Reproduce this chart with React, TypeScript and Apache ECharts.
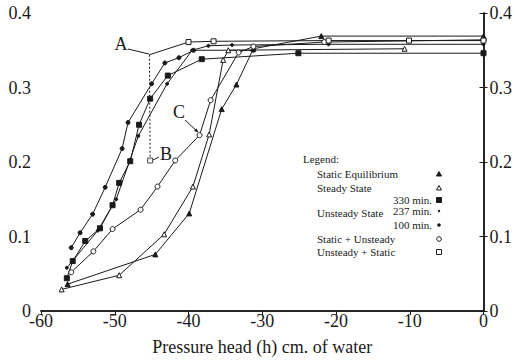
import React, { useEffect, useRef } from "react";
import * as echarts from "echarts";

// ---- data (pressure head h, water content) ----
const staticEquilibrium: number[][] = [
  [-56.4, 0.036], [-44.5, 0.076], [-39.9, 0.131], [-35.5, 0.271], [-33.5, 0.304],
  [-31.2, 0.352], [-22.0, 0.369], [0, 0.369],
];
const steadyState: number[][] = [
  [-57.2, 0.029], [-49.4, 0.048], [-43.3, 0.103], [-39.4, 0.167], [-37.2, 0.237],
  [-35.3, 0.337], [-34.6, 0.350], [-10.7, 0.352],
];
const unsteady330: number[][] = [
  [-56.5, 0.044], [-55.7, 0.067], [-54.0, 0.094], [-52.0, 0.111], [-50.3, 0.142],
  [-49.4, 0.172], [-47.9, 0.201], [-46.7, 0.250], [-45.2, 0.285], [-42.8, 0.316],
  [-38.2, 0.338], [-25.1, 0.346], [0, 0.346],
];
const unsteady237: number[][] = [
  [-56.5, 0.058], [-52.3, 0.108], [-49.8, 0.150], [-46.8, 0.235], [-42.9, 0.305],
  [-39.5, 0.350], [-37.3, 0.356], [-34.1, 0.357], [-21.0, 0.358], [0, 0.358],
];
const unsteady100: number[][] = [
  [-55.9, 0.085], [-54.7, 0.105], [-53.0, 0.130], [-51.3, 0.166], [-49.0, 0.218],
  [-48.2, 0.253], [-45.0, 0.305], [-43.2, 0.333], [-41.3, 0.340], [-39.3, 0.350],
  [-31.2, 0.350],
];
const staticUnsteady: number[][] = [
  [-55.9, 0.052], [-52.9, 0.080], [-50.3, 0.110], [-46.5, 0.136], [-44.2, 0.167],
  [-41.8, 0.202], [-38.5, 0.236], [-37.0, 0.283], [-33.2, 0.347], [-31.2, 0.355],
  [-21.6, 0.361], [0, 0.364],
];
const pointA: number[] = [-45.3, 0.344];
const pointB: number[] = [-45.2, 0.202];
const unsteadyStatic: number[][] = [
  [-40.0, 0.361], [-36.6, 0.362], [-21.0, 0.363], [-10.1, 0.363], [0, 0.363],
];

const xTicks = [-60, -50, -40, -30, -20, -10, 0];
const yTicks = [0, 0.1, 0.2, 0.3, 0.4];

const legendRows = [
  { label: "Static Equilibrium", marker: "triFill" },
  { label: "Steady State", marker: "triOpen" },
  { label: "330 min.", marker: "sqFill" },
  { label: "237 min.", marker: "dotSmall" },
  { label: "100 min.", marker: "dot" },
  { label: "Static + Unsteady", marker: "circOpen" },
  { label: "Unsteady + Static", marker: "sqOpen" },
];

const FONT = "'Liberation Serif', 'Times New Roman', serif";
const INK = "#1a1a1a";

export default function App() {
  const ref = useRef<HTMLDivElement>(null);
  useEffect(() => {
    const chart = echarts.init(ref.current!, null, { renderer: "svg" });
    const lineStyle = { color: INK, width: 1 };
    const mk = (name: string, data: any[], symbol: string, size: number, filled: boolean) => ({
      type: "line",
      name,
      data,
      symbol,
      symbolSize: size,
      showAllSymbol: true,
      lineStyle,
      itemStyle: { color: filled ? INK : "#fff", borderColor: INK, borderWidth: 1 },
      emphasis: { disabled: true },
      z: 3,
    });

    const txt = (x: number, y: number, text: string, align = "left", size = 11) => ({
      type: "text",
      x,
      y,
      style: { text, font: `${size}px ${FONT}`, fill: INK, align, verticalAlign: "middle" },
      z: 10,
    });

    const mx = 439;
    const rowsY = [174, 188, 200, 211, 225, 239, 252];
    const markerEl = (kind: string, y: number) => {
      const s = { stroke: INK, lineWidth: 1 };
      switch (kind) {
        case "triFill":
          return { type: "polygon", shape: { points: [[mx, y - 2.5], [mx + 2.5, y + 2], [mx - 2.5, y + 2]] }, style: { ...s, fill: INK } };
        case "triOpen":
          return { type: "polygon", shape: { points: [[mx, y - 2.5], [mx + 2.5, y + 2], [mx - 2.5, y + 2]] }, style: { ...s, fill: "#fff" } };
        case "sqFill":
          return { type: "rect", shape: { x: mx - 2.5, y: y - 2.5, width: 5, height: 5 }, style: { ...s, fill: INK } };
        case "dotSmall":
          return { type: "circle", shape: { cx: mx, cy: y, r: 1.2 }, style: { fill: INK } };
        case "dot":
          return { type: "circle", shape: { cx: mx, cy: y, r: 1.8 }, style: { fill: INK } };
        case "circOpen":
          return { type: "circle", shape: { cx: mx, cy: y, r: 2.3 }, style: { ...s, fill: "#fff" } };
        default:
          return { type: "rect", shape: { x: mx - 2.5, y: y - 2.5, width: 5, height: 5 }, style: { ...s, fill: "#fff" } };
      }
    };

    const graphics: any[] = [txt(303, 159, "Legend:")];
    legendRows.forEach((r, i) => {
      const y = rowsY[i];
      if (r.label.endsWith("min.")) graphics.push(txt(432, y, r.label, "right"));
      else graphics.push(txt(317, y, r.label));
      graphics.push({ ...markerEl(r.marker, y), z: 10 });
    });
    graphics.push(txt(317, 213, "Unsteady State"));
    // annotations
    graphics.push(txt(121, 44, "A", "center", 18));
    graphics.push({ type: "line", shape: { x1: 128, y1: 49, x2: 149, y2: 54 }, style: { stroke: INK, lineWidth: 1 } });
    graphics.push(txt(166, 154, "B", "center", 18));
    graphics.push({ type: "line", shape: { x1: 159, y1: 157, x2: 153, y2: 160 }, style: { stroke: INK, lineWidth: 1 } });
    graphics.push(txt(179, 112, "C", "center", 18));
    graphics.push({ type: "line", shape: { x1: 185, y1: 120, x2: 198, y2: 132 }, style: { stroke: INK, lineWidth: 1 } });
    graphics.push({ type: "polygon", shape: { points: [[198.5, 132.5], [194, 131], [196.5, 128.5]] }, style: { fill: INK } });

    const axisCommon = {
      axisLine: { show: true, lineStyle: { color: INK, width: 1.5 } },
      splitLine: { show: false },
    };

    chart.setOption({
      animation: false,
      grid: { left: 41, right: 29, top: 13, bottom: 49 },
      xAxis: [
        {
          ...axisCommon,
          type: "value",
          min: -60,
          max: 0,
          interval: 10,
          position: "bottom",
          axisTick: { show: true, length: 4, inside: false, lineStyle: { color: INK } },
          axisLabel: {
            show: true,
            fontFamily: FONT,
            fontSize: 18,
            lineHeight: 12,
            color: INK,
            margin: 4,
            formatter: (v: number) => (xTicks.includes(v) ? String(v) : ""),
          },
          name: "Pressure head (h) cm. of water",
          nameLocation: "middle",
          nameGap: 27,
          nameTextStyle: { fontFamily: FONT, fontSize: 18, color: INK },
        },
        {
          ...axisCommon,
          type: "value",
          min: -60,
          max: 0,
          interval: 10,
          position: "top",
          axisTick: { show: true, length: 4, inside: true, lineStyle: { color: INK } },
          axisLabel: { show: false },
        },
      ],
      yAxis: [
        {
          ...axisCommon,
          type: "value",
          min: 0,
          max: 0.4,
          interval: 0.1,
          position: "left",
          axisTick: { show: true, length: 4, inside: false, lineStyle: { color: INK } },
          axisLabel: {
            fontFamily: FONT,
            fontSize: 18,
            lineHeight: 12,
            color: INK,
            margin: 10,
            formatter: (v: number) => (yTicks.some((t) => Math.abs(t - v) < 1e-9) ? String(+v.toFixed(1)) : ""),
          },
        },
        {
          ...axisCommon,
          type: "value",
          min: 0,
          max: 0.4,
          interval: 0.1,
          position: "right",
          axisTick: { show: true, length: 4, inside: false, lineStyle: { color: INK } },
          axisLabel: {
            fontFamily: FONT,
            fontSize: 18,
            lineHeight: 12,
            color: INK,
            margin: 6,
            formatter: (v: number) => String(+v.toFixed(1)),
          },
        },
      ],
      series: [
        mk("Static Equilibrium", staticEquilibrium, "triangle", 5, true),
        mk("Steady State", steadyState, "triangle", 5, false),
        mk("330 min.", unsteady330, "rect", 5, true),
        mk("237 min.", unsteady237, "circle", 3, true),
        mk("100 min.", unsteady100, "circle", 4, true),
        mk("Static + Unsteady", staticUnsteady, "circle", 5, false),
        mk("Unsteady + Static", [{ value: pointA, symbol: "none" }, ...unsteadyStatic], "rect", 5, false),
        {
          type: "line",
          name: "A-B",
          data: [pointA, pointB],
          symbol: "none",
          lineStyle: { color: INK, width: 1, type: [2, 2] },
          z: 2,
        },
        {
          type: "scatter",
          name: "B",
          data: [pointB],
          symbol: "rect",
          symbolSize: 5,
          itemStyle: { color: "#fff", borderColor: INK, borderWidth: 1 },
          z: 4,
        },
      ],
      graphic: graphics,
    });
    return () => chart.dispose();
  }, []);
  return (
    <div
      ref={ref}
      style={{ position: "fixed", left: 0, top: 0, width: 515, height: 361, background: "#fff" }}
    />
  );
}
